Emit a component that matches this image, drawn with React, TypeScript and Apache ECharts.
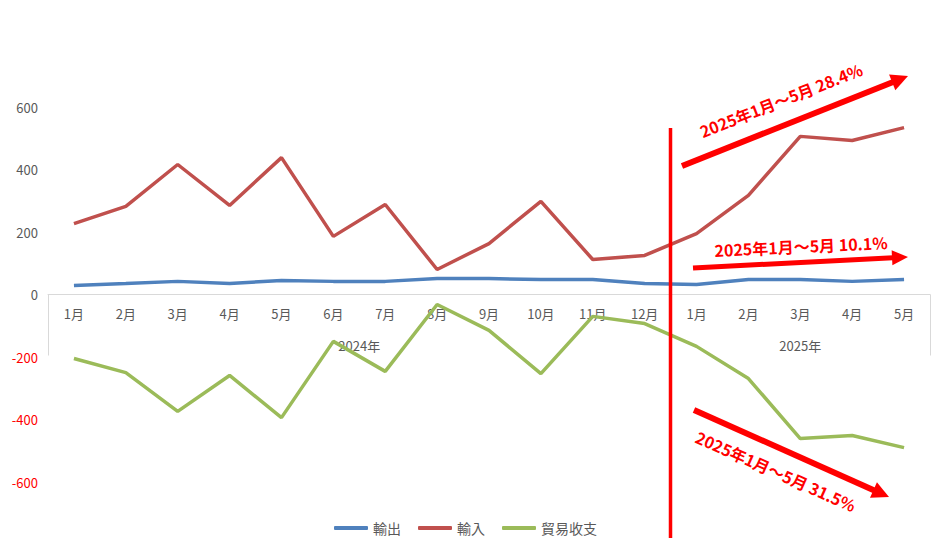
import React, { useEffect, useRef } from 'react';
import * as echarts from 'echarts';

const months = ['1月', '2月', '3月', '4月', '5月', '6月', '7月', '8月', '9月', '10月', '11月', '12月', '1月', '2月', '3月', '4月', '5月'];
const years = ['2024年', '2025年'];
const yearSpans = [12, 5];
const exportVals = [29, 35, 42, 35, 45, 42, 42, 51, 51, 48, 48, 35, 32, 48, 48, 42, 48];
const importVals = [227, 282, 416, 285, 438, 186, 288, 80, 163, 298, 112, 125, 195, 317, 506, 493, 534];
const balanceVals = [-205, -250, -374, -259, -394, -150, -246, -32, -115, -253, -70, -93, -166, -269, -461, -451, -490];
const seriesNames = ['輸出', '輸入', '貿易收支'];
const colors = ['#4F81BD', '#C0504D', '#9BBB59'];
const notes = ['2025年1月～5月 28.4%', '2025年1月～5月 10.1%', '2025年1月～5月 31.5%'];

const FONT = '"Noto Sans CJK JP", "Noto Sans", sans-serif';
const RED = '#FF0000';

function arrow(x1: number, y1: number, x2: number, y2: number, w: number, hl: number, hw: number) {
  const dx = x2 - x1;
  const dy = y2 - y1;
  const len = Math.sqrt(dx * dx + dy * dy);
  const ux = dx / len;
  const uy = dy / len;
  const nx = -uy;
  const ny = ux;
  const bx = x2 - ux * hl;
  const by = y2 - uy * hl;
  return [
    {
      type: 'line',
      shape: { x1, y1, x2: bx + ux * 1, y2: by + uy * 1 },
      style: { stroke: RED, lineWidth: w },
      z: 100,
    },
    {
      type: 'polygon',
      shape: {
        points: [
          [x2, y2],
          [bx + (nx * hw) / 2, by + (ny * hw) / 2],
          [bx - (nx * hw) / 2, by - (ny * hw) / 2],
        ],
      },
      style: { fill: RED },
      z: 100,
    },
  ];
}

function note(text: string, x: number, y: number, deg: number) {
  return {
    type: 'text',
    x,
    y,
    rotation: (deg * Math.PI) / 180,
    style: {
      text,
      fill: RED,
      font: `bold 16px ${FONT}`,
      align: 'center',
      verticalAlign: 'middle',
    },
    z: 100,
  };
}

export default function App() {
  const ref = useRef<HTMLDivElement>(null);
  useEffect(() => {
    const chart = echarts.init(ref.current!, null, { renderer: 'svg' });
    const mkSeries = (name: string, data: number[], color: string) => ({
      name,
      type: 'line',
      data,
      symbol: 'none',
      smooth: false,
      lineStyle: { width: 3.5, color },
      itemStyle: { color },
    });
    const gridTop = 107;
    const gridBottom = 66;
    const gridH = 548 - gridTop - gridBottom;
    const yMin = -600;
    const yMax = 600;
    chart.setOption({
      animation: false,
      textStyle: { fontFamily: FONT },
      grid: { left: 48, right: 1, top: gridTop, bottom: gridBottom, containLabel: false },
      legend: {
        bottom: 8,
        left: 'center',
        itemWidth: 34,
        itemHeight: 4,
        itemGap: 17,
        icon: 'roundRect',
        textStyle: { color: '#595959', fontSize: 14, fontFamily: FONT },
        data: seriesNames,
      },
      xAxis: {
        type: 'category',
        data: months,
        boundaryGap: true,
        position: 'bottom',
        offset: -(gridH * (0 - yMin)) / (yMax - yMin),
        axisLine: { onZero: false, lineStyle: { color: '#D9D9D9', width: 1 } },
        axisTick: { show: false },
        axisLabel: { color: '#595959', fontSize: 13, margin: 12, interval: 0 },
        splitLine: { show: false },
      },
      yAxis: {
        type: 'value',
        min: yMin,
        max: yMax,
        interval: 200,
        axisLine: { show: false },
        axisTick: { show: false },
        splitLine: { show: false },
        axisLabel: {
          margin: 10,
          fontSize: 13,
          formatter: (v: number) => (v < 0 ? `{neg|${v}}` : `{pos|${v}}`),
          rich: {
            neg: { color: RED, fontSize: 13, fontFamily: FONT },
            pos: { color: '#595959', fontSize: 13, fontFamily: FONT },
          },
        },
      },
      series: [
        mkSeries(seriesNames[0], exportVals, colors[0]),
        mkSeries(seriesNames[1], importVals, colors[1]),
        mkSeries(seriesNames[2], balanceVals, colors[2]),
      ],
    });

    const px = (i: number) => (chart.convertToPixel({ gridIndex: 0 }, [i, 0]) as number[]);
    const p0 = px(0);
    const p1 = px(1);
    const band = p1[0] - p0[0];
    const zeroY = p0[1];
    const graphics: any[] = [];
    let start = 0;
    const bounds: number[] = [p0[0] - band / 2];
    years.forEach((yr, k) => {
      const end = start + yearSpans[k] - 1;
      const cx = (px(start)[0] + px(end)[0]) / 2;
      graphics.push({
        type: 'text',
        x: cx,
        y: zeroY + 51,
        style: { text: yr, fill: '#595959', font: `13px ${FONT}`, align: 'center', verticalAlign: 'middle' },
      });
      bounds.push(px(end)[0] + band / 2);
      start = end + 1;
    });
    bounds.forEach((bx) => {
      graphics.push({
        type: 'line',
        shape: { x1: Math.round(bx) + 0.5, y1: zeroY, x2: Math.round(bx) + 0.5, y2: zeroY + 61 },
        style: { stroke: '#D9D9D9', lineWidth: 1 },
      });
    });
    graphics.push({
      type: 'line',
      shape: { x1: 670.5, y1: 128, x2: 670.5, y2: 538 },
      style: { stroke: RED, lineWidth: 3.5 },
      z: 100,
    });
    graphics.push(...arrow(682, 166, 908, 76, 6, 17, 17));
    graphics.push(...arrow(693, 268, 908, 257, 5, 16, 15));
    graphics.push(...arrow(694, 410, 889, 497, 6, 17, 17));
    graphics.push(note(notes[0], 781, 100, 21.5));
    graphics.push(note(notes[1], 801, 246, 2.6));
    graphics.push(note(notes[2], 776, 471, -24));
    chart.setOption({ graphic: graphics });

    return () => chart.dispose();
  }, []);
  return (
    <div
      ref={ref}
      style={{ position: 'fixed', left: 0, top: 0, width: 931, height: 548, background: '#fff' }}
    />
  );
}
